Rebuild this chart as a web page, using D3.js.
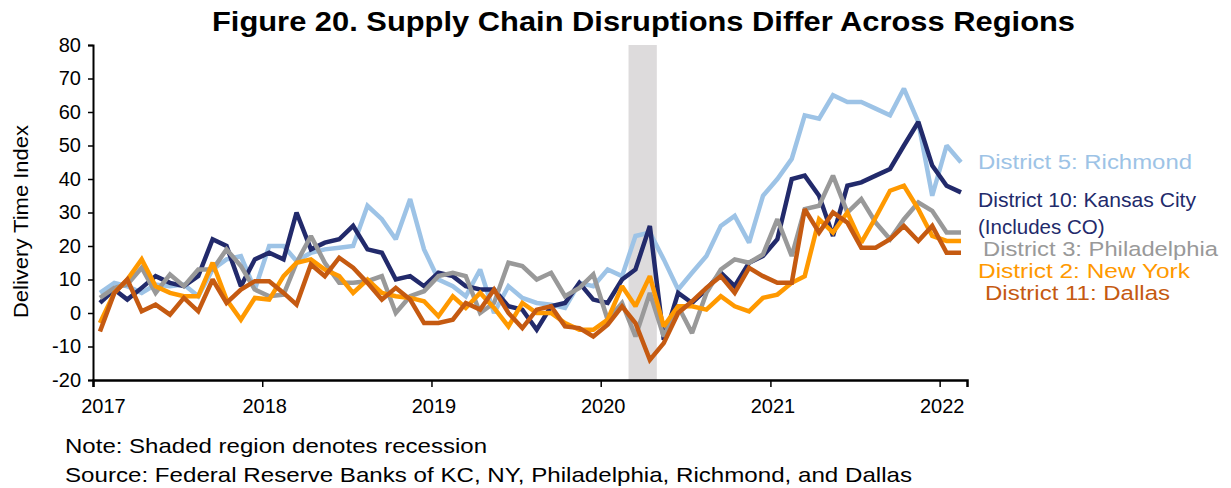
<!DOCTYPE html>
<html><head><meta charset="utf-8">
<script src="https://cdn.jsdelivr.net/npm/d3@7"></script>
<style>
html,body{margin:0;padding:0;background:#fff;}
svg text{font-family:"Liberation Sans",Arial,sans-serif;}
</style></head>
<body>
<svg id="chart" width="1231" height="488"></svg>
<script>
// ---- data ----
const months = d3.timeMonth.range(new Date(2017,0,1), new Date(2022,2,1)); // Jan 2017 .. Feb 2022
const richmond = [6,9,8,6,8.5,8,8.5,5,13,16,17,7,20,20,15.5,18,19,19.5,20,32,28,22,34,19,10,8,5,13,0,8,4.5,3,2.5,1.5,9,8,13,11,23,24,16,7,12,17,26,29,21,35,40,46,59,58,65,63,63,61,59,67,57,35,50,45];
const kansasCity = [3,7,4,7.5,11,9,8,11,22,20,8,16,18,16,30,19,21,22,26,19,18,10,11,8,12,11,8,7,7,2,1,-5,2,3,9,4,3,10,13,26,-8,6,3,7,12,8,15,17,22,40,41,35,23,38,39,41,43,50,57,44,38,36];
const philadelphia = [4.5,7.5,8.5,13.5,6,11.5,8,13,13,19,14,7,5,5.5,15,23,15,9,9,9.5,11,0,5,6.5,11,12,11,0,3,15,14,10,12,5,7.5,11.5,-2,3,-7,6,-7,2,-6,6,13,16,15,17.5,28,17,31,32,41,30,34,27,22,28,33,30.5,24,24];
const newYork = [-3,6,10,16,8,6,5,5,15,4,-2,4.5,4,11,15,16,13,11,6,10,6,5,4.5,3.5,-1,5,1.5,6,1.5,-4,3,0,0,-3,-5,-5,-2,8,2,11,-4,2,2,1,5,2,0.5,4.5,5.5,9,11,28,24,30,21,28.5,36.5,38,31,23,21.5,21.5];
const dallas = [-5.5,6,10,0.5,2.5,-0.5,4.5,0.5,10,3,7,9.5,9.5,6,2.5,14.5,11,16.5,13.5,9,4,7.5,4,-3,-3,-2,3,1,7,0,-4.5,1,2,-4,-4.5,-7,-3.5,2,-3,-14,-9,0,3.5,7.5,11,6,13.5,11,9,9,31,24,30,27,19.5,19.5,22,26,21.5,26,18,18];
const seriesNames = ["District 5: Richmond","District 10: Kansas City","District 3: Philadelphia","District 2: New York","District 11: Dallas"];
const seriesColors = ["#9dc3e6","#222a6b","#999999","#ff9900","#c55a11"];
const yTicks = [-20,-10,0,10,20,30,40,50,60,70,80];
const xTickYears = [2017,2018,2019,2020,2021,2022];
const recession = [new Date(2020,2,1), new Date(2020,4,1)];
const title = "Figure 20. Supply Chain Disruptions Differ Across Regions";
const yTitle = "Delivery Time Index";
const notes = ["Note: Shaded region denotes recession","Source: Federal Reserve Banks of KC, NY, Philadelphia, Richmond, and Dallas"];

// ---- layout ----
const svg = d3.select("#chart");
const L = 93, R = 967, T = 45, B = 380;
const x = d3.scaleTime().domain([new Date(2017,0,1), new Date(2022,2,1)]).range([L, R]);
const y = d3.scaleLinear().domain([-20, 80]).range([B, T]);
const mid = d => d3.timeHour.offset(d, 15*24);

// recession shading
svg.append("rect")
  .attr("x", x(recession[0])).attr("y", T)
  .attr("width", x(recession[1]) - x(recession[0])).attr("height", B - T)
  .attr("fill", "#dddbdc");

// title
svg.append("text").attr("x", 212).attr("y", 31)
  .attr("font-size", 28).attr("font-weight","bold").attr("fill","#000")
  .attr("textLength", 863).attr("lengthAdjust","spacingAndGlyphs").text(title);

// y axis
const yAxis = svg.append("g").attr("transform", `translate(${L},0)`)
  .call(d3.axisLeft(y).tickValues(yTicks).tickSize(5).tickPadding(7).tickFormat(d => String(d)));
yAxis.select(".domain").attr("stroke","#000").attr("stroke-width",2);
yAxis.selectAll(".tick line").attr("stroke","#000").attr("stroke-width",1.5);
yAxis.selectAll(".tick text").attr("font-size",20).attr("fill","#000").attr("font-family","Liberation Sans, Arial, sans-serif");

// x axis
const xAxis = svg.append("g").attr("transform", `translate(0,${B})`)
  .call(d3.axisBottom(x).tickValues(xTickYears.map(yr => new Date(yr,0,1))).tickSize(7).tickPadding(12).tickFormat(d3.timeFormat("%Y")));
xAxis.select(".domain").attr("stroke","#000").attr("stroke-width",2.5);
xAxis.selectAll(".tick line").attr("stroke","#000").attr("stroke-width",1.5);
xAxis.selectAll(".tick text").attr("font-size",20).attr("fill","#000").attr("font-family","Liberation Sans, Arial, sans-serif")
  .attr("dx", (d,i) => i === 0 ? 10 : 2);

// y title
svg.append("text").attr("transform","translate(28,318) rotate(-90)")
  .attr("font-size",20).attr("fill","#000")
  .attr("textLength",193).attr("lengthAdjust","spacingAndGlyphs").text(yTitle);

// lines
const allSeries = [richmond, kansasCity, philadelphia, newYork, dallas];
const line = d3.line().x((d,i) => x(mid(months[i]))).y(d => y(d));
allSeries.forEach((s,k) => {
  svg.append("path").datum(s).attr("d", line)
    .attr("fill","none").attr("stroke", seriesColors[k]).attr("stroke-width",4.5)
    .attr("stroke-linejoin","miter").attr("stroke-miterlimit",2);
});

// series labels
const lab = [
  {k:0, x:978, y:169, w:214, t:seriesNames[0]},
  {k:1, x:978, y:207, w:218, t:seriesNames[1]},
  {k:1, x:978, y:234, w:null, t:"(Includes CO)"},
  {k:2, x:983, y:256, w:235, t:seriesNames[2]},
  {k:3, x:978, y:278, w:212, t:seriesNames[3]},
  {k:4, x:985, y:300, w:185, t:seriesNames[4]}
];
lab.forEach(l => {
  const t = svg.append("text").attr("x",l.x).attr("y",l.y).attr("font-size",20.5)
    .attr("fill",seriesColors[l.k]).text(l.t);
  if (l.w) t.attr("textLength",l.w).attr("lengthAdjust","spacingAndGlyphs");
});

// notes
const noteW = [422, 847];
notes.forEach((n,i) => svg.append("text").attr("x",65).attr("y",453 + i*29).attr("font-size",21).attr("fill","#000")
  .attr("textLength",noteW[i]).attr("lengthAdjust","spacingAndGlyphs").text(n));
</script>
</body></html>
